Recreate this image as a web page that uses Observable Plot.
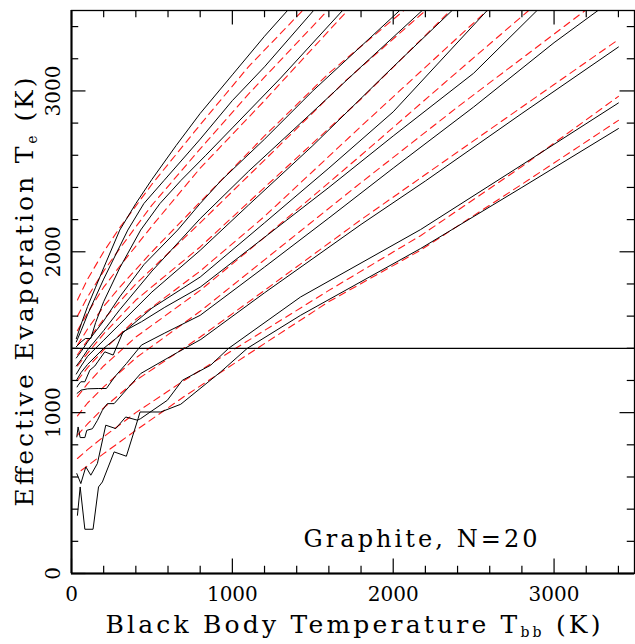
<!DOCTYPE html>
<html><head><meta charset="utf-8">
<script src="https://cdn.jsdelivr.net/npm/d3@7"></script>
<script src="https://cdn.jsdelivr.net/npm/@observablehq/plot@0.6"></script>
<style>html,body{margin:0;padding:0;background:#fff;}</style>
</head><body><div id="chart"></div>
<script>
// ---- solid (model) curves: [Tbb, Te] ----
const solid01 = [[30,1460],[60,1550],[100,1660],[150,1780],[200,1900],[300,2135],[400,2300],[500,2450],[650,2660],[800,2860],[1000,3100],[1200,3340],[1343,3500],[1400,3560]];
const solid02 = [[30,1440],[60,1510],[100,1610],[150,1720],[200,1830],[350,2135],[450,2300],[575,2443],[800,2700],[1000,2940],[1200,3150],[1505,3500],[1550,3550]];
const solid03 = [[30,1410],[60,1440],[87,1461],[120,1461],[150,1560],[200,1690],[300,1900],[430,2135],[550,2300],[680,2443],[835,2600],[1000,2770],[1300,3080],[1685,3500],[1750,3570]];
const solid04 = [[30,1340],[60,1380],[100,1440],[200,1570],[300,1720],[450,1920],[660,2135],[800,2300],[930,2443],[1200,2700],[1500,3000],[2040,3500],[2100,3560]];
const solid05 = [[30,1290],[60,1330],[100,1390],[200,1510],[300,1640],[500,1880],[800,2206],[1100,2500],[1500,2870],[1800,3150],[2180,3500],[2250,3560]];
const solid06 = [[30,1240],[60,1290],[100,1350],[200,1450],[300,1550],[500,1750],[800,2009],[1100,2290],[1500,2660],[2000,3150],[2366,3500],[2430,3560]];
const solid07 = [[30,1200],[60,1250],[100,1300],[200,1400],[300,1480],[500,1650],[800,1843],[1200,2180],[1600,2520],[2000,2870],[2584,3500],[2650,3560]];
const solid08 = [[35,1160],[41,1171],[58,1192],[83,1192],[114,1264],[145,1290],[166,1320],[207,1378],[259,1358],[321,1503],[435,1565],[580,1655],[800,1780],[1200,2090],[1600,2400],[2000,2720],[2500,3110],[2894,3500],[2950,3560]];
const solid09 = [[35,1120],[60,1140],[100,1148],[166,1150],[217,1150],[269,1223],[342,1306],[435,1420],[580,1495],[800,1605],[1200,1905],[1600,2210],[2000,2520],[2500,2900],[3000,3300],[3273,3500]];
const solid10 = [[33,849],[41,911],[54,845],[83,845],[95,890],[130,900],[161,952],[192,1015],[223,1056],[265,1056],[430,1243],[660,1375],[804,1455],[1200,1745],[1800,2170],[2200,2440],[2800,2860],[3400,3273]];
const solid11 = [[33,621],[58,559],[89,663],[120,611],[161,684],[213,922],[275,901],[337,973],[410,953],[430,963],[596,1077],[689,1201],[865,1295],[977,1400],[1424,1719],[2170,2138],[2800,2540],[3400,2925]];
const solid12 = [[37,362],[54,538],[83,275],[134,275],[168,538],[192,569],[265,756],[341,729],[414,963],[426,1004],[555,1004],[679,1052],[927,1253],[1093,1400],[1424,1605],[2170,2020],[2800,2400],[3400,2766]];

// ---- dashed (fit) curves ----
const fit01 = [[37,1700],[100,1830],[200,2000],[300,2150],[500,2420],[800,2790],[1100,3150],[1437,3500],[1500,3570]];
const fit02 = [[37,1600],[100,1720],[200,1880],[300,2020],[500,2290],[800,2640],[1100,2980],[1592,3500],[1650,3560]];
const fit03 = [[37,1510],[100,1620],[200,1780],[300,1910],[500,2160],[800,2520],[1200,2940],[1716,3500],[1780,3570]];
const fit04 = [[37,1420],[100,1520],[200,1660],[300,1780],[500,2000],[800,2310],[1200,2720],[1600,3110],[2066,3500],[2120,3550]];
const fit05 = [[37,1360],[100,1450],[200,1580],[400,1800],[800,2180],[1200,2570],[1700,3060],[2201,3500],[2260,3560]];
const fit06 = [[37,1290],[100,1370],[200,1490],[400,1700],[800,2030],[1200,2400],[1800,2950],[2356,3500],[2420,3560]];
const fit07 = [[37,1200],[100,1280],[200,1390],[400,1580],[800,1880],[1200,2220],[1800,2780],[2584,3500],[2650,3560]];
const fit08 = [[37,1100],[100,1180],[200,1290],[400,1470],[800,1760],[1200,2090],[1800,2600],[2400,3120],[2842,3500],[2900,3550]];
const fit09 = [[37,980],[100,1060],[200,1160],[400,1340],[800,1630],[1200,1950],[1800,2430],[2400,2900],[3194,3500],[3260,3560]];
const fit10 = [[37,860],[100,930],[200,1030],[400,1200],[800,1470],[1200,1760],[1800,2200],[2400,2620],[3000,3040],[3400,3319]];
const fit11 = [[37,715],[100,770],[200,850],[400,1000],[700,1200],[1021,1400],[1600,1760],[2170,2100],[2800,2530],[3400,2966]];
const fit12 = [[60,640],[100,670],[200,745],[400,890],[700,1100],[1155,1400],[1600,1690],[2170,2010],[2800,2420],[3400,2817]];

const refLevel = [1400];
const majorTicks = [0, 1000, 2000, 3000];
const minorTicks = [200,400,600,800,1200,1400,1600,1800,2200,2400,2600,2800,3200,3400];
const xTickLabels = ["0","1000","2000","3000"];
const yTickLabels = ["0","1000","2000","3000"];
const xTitle = "Black Body Temperature Tbb (K)";
const yTitle = "Effective Evaporation Te (K)";
const note = "Graphite, N=20";

const solids = [solid01,solid02,solid03,solid04,solid05,solid06,solid07,solid08,solid09,solid10,solid11,solid12];
const fits = [fit01,fit02,fit03,fit04,fit05,fit06,fit07,fit08,fit09,fit10,fit11,fit12];
const toRows = (arr) => arr.flatMap((c, i) => c.map(([x, y]) => ({x, y, id: i})));
const solidRows = toRows(solids);
const fitRows = toRows(fits);

const TOP = 3500, MAJ = 90, MIN = 45;
const font = "DejaVu Serif";

const chart = Plot.plot({
  width: 635, height: 644,
  marginLeft: 71, marginRight: 1, marginTop: 10, marginBottom: 71,
  x: {domain: [0, 3500], axis: null},
  y: {domain: [0, 3500], axis: null},
  style: {fontFamily: font, background: "#fff", color: "#000"},
  marks: [
    Plot.line(fitRows, {x: "x", y: "y", z: "id", stroke: "#ff1a1a", strokeWidth: 1.1, strokeDasharray: "7,5", clip: true}),
    Plot.line(solidRows, {x: "x", y: "y", z: "id", stroke: "#000", strokeWidth: 1, clip: true}),
    Plot.ruleY(refLevel, {stroke: "#000", strokeWidth: 1.2}),
    Plot.ruleX(majorTicks, {x: d => d, y1: 0, y2: MAJ, strokeWidth: 1.2}),
    Plot.ruleX(minorTicks, {x: d => d, y1: 0, y2: MIN, strokeWidth: 1.2}),
    Plot.ruleX(majorTicks, {x: d => d, y1: TOP, y2: TOP - MAJ, strokeWidth: 1.2}),
    Plot.ruleX(minorTicks, {x: d => d, y1: TOP, y2: TOP - MIN, strokeWidth: 1.2}),
    Plot.ruleY(majorTicks, {y: d => d, x1: 0, x2: MAJ, strokeWidth: 1.2}),
    Plot.ruleY(minorTicks, {y: d => d, x1: 0, x2: MIN, strokeWidth: 1.2}),
    Plot.ruleY(majorTicks, {y: d => d, x1: TOP, x2: TOP - MAJ, strokeWidth: 1.2}),
    Plot.ruleY(minorTicks, {y: d => d, x1: TOP, x2: TOP - MIN, strokeWidth: 1.2}),
    Plot.frame({stroke: "#000", strokeWidth: 1.3}),
    Plot.ruleY([0], {stroke: "#000", strokeWidth: 2.2}),
    Plot.ruleX([0], {stroke: "#000", strokeWidth: 2}),
    Plot.text(majorTicks, {x: d => d, y: 0, text: (d, i) => xTickLabels[i], dy: 21, fontSize: 20}),
    Plot.text(majorTicks, {x: 0, y: d => d, text: (d, i) => yTickLabels[i], dx: -18, rotate: -90, fontSize: 20}),
    Plot.text([xTitle], {frameAnchor: "bottom", text: d => d, dy: 59, fontSize: 25, textAnchor: "middle"}),
    Plot.text([yTitle], {frameAnchor: "left", text: d => d, dx: -47, rotate: -90, fontSize: 25, textAnchor: "middle"}),
    Plot.text([note], {frameAnchor: "bottom-right", text: d => d, dx: -97, dy: -27, textAnchor: "end", fontSize: 24})
  ]
});
document.getElementById("chart").appendChild(chart);

const svg = d3.select(chart);
svg.selectAll("text").each(function() {
  const t = d3.select(this);
  const s = t.text();
  if (s === xTitle) {
    t.text(null);
    t.append("tspan").text("Black Body Temperature T");
    t.append("tspan").attr("dy", 4).attr("font-size", 14).text("bb");
    t.append("tspan").attr("dy", -4).text(" (K)");
    t.attr("textLength", 495).attr("lengthAdjust", "spacing");
  } else if (s === yTitle) {
    t.text(null);
    t.append("tspan").text("Effective Evaporation T");
    t.append("tspan").attr("dy", 4).attr("font-size", 14).text("e");
    t.append("tspan").attr("dy", -4).text(" (K)");
    t.attr("textLength", 429).attr("lengthAdjust", "spacing");
  } else if (s === note) {
    t.attr("textLength", 234).attr("lengthAdjust", "spacing");
  }
});
</script>
</body></html>
